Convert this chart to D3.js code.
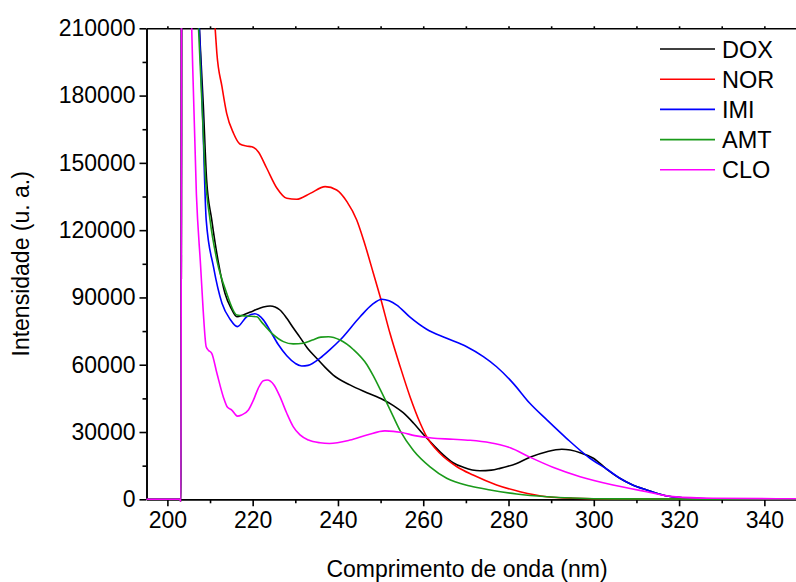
<!DOCTYPE html>
<html>
<head>
<meta charset="utf-8">
<script src="https://cdn.jsdelivr.net/npm/d3@7"></script>
<style>
  body { margin: 0; background: #fff; }
  text { font-family: "Liberation Sans", Arial, sans-serif; }
</style>
</head>
<body>
<div id="chart"></div>
<script>
// spectra: [wavelength nm, intensity]
var DOX = [[195,0],[202.8,0],[203.2,-800],[203.4,400000],[207.5,210000],[208.4,176600],[209.2,142400],[210.4,124600],
  [212.0,105200],[213.5,91900],[215,85000],[216.3,81400],[217.8,82200],[219.5,83500],[221.0,84700],[222.5,85700],
  [224.1,86200],[226.4,84400],[228.0,80700],[229.5,76500],[231.1,72200],[233,67000],[235.0,62900],[237,58800],
  [238.9,55400],[242.8,51000],[246.8,47500],[250.6,44400],[253,41800],[255.3,38600],[257.7,34000],[260.0,29000],
  [262.5,24000],[264.7,19800],[267,16300],[269.4,14300],[271.5,13100],[273.3,12750],[276,13000],[278.0,13800],
  [281.9,16000],[285.0,18700],[289.0,21200],[292.5,22300],[296.8,20800],[299.9,18300],[303,13500],[306.1,9400],
  [309,6500],[312.4,4150],[317.1,1470],[323.3,450],[330,200],[350,100]]

var NOR = [[195,0],[202.8,0],[203.2,-800],[203.4,400000],[211.2,210000],[211.6,198900],[212.8,184000],[213.9,172100],
  [215.5,163200],[217.0,158400],[218.5,157500],[219.8,157200],[221.3,155000],[223.3,147600],[225.7,138700],
  [228.0,134200],[230.3,133800],[233.5,136400],[237.0,139400],[239.7,137900],[242.1,132700],[244.4,124500],
  [246.0,115600],[248.3,100800],[249.9,90300],[252.2,74000],[254.6,59100],[256.9,45750],[259.3,33900],[260.8,27900],
  [263.9,20500],[267.9,14500],[271.7,10800],[277.2,6400],[282.7,3400],[289.0,1160],[295,500],[305,200],[350,50]]

var IMI = [[195,0],[202.8,0],[203.2,-800],[203.4,400000],[207.5,210000],[208.3,169100],[209.1,124600],[210.8,103700],
  [212.8,87400],[214.7,80300],[216.4,77000],[218.6,81400],[220.5,82700],[222.5,80000],[224,75500],[226,69000],
  [228,64000],[230,60600],[231.5,59400],[233,59700],[235.8,62900],[238,66500],[240.5,71000],[245.2,81400],
  [248,86800],[250.3,89200],[252,88500],[253.8,86600],[256.9,81200],[260.8,75800],[265.5,71800],[270.2,68000],
  [274.1,63600],[277.2,59100],[281.1,51700],[285.0,42800],[289.0,35400],[293.6,27200],[299.1,18300],[303,13500],
  [306.1,9400],[309,6500],[312.4,4150],[317.1,1470],[323.3,450],[330,200],[350,100]]

var AMT = [[195,0],[202.8,0],[203.2,-800],[203.4,400000],[207.3,210000],[208.1,176600],[208.8,146800],[210.0,124600],
  [211.6,106700],[213.9,91900],[216.3,82200],[218.6,81700],[221.0,81400],[222.1,79000],[224.5,74000],[227.2,70300],
  [229.5,69300],[231.9,69600],[234,71000],[236,72300],[237.8,72500],[240.5,71000],[243.6,66800],[246.8,60000],
  [248.3,55000],[249.9,49000],[252.2,40000],[254.6,30500],[257.7,21800],[261.6,14500],[265.5,9400],[271.0,5900],
  [275.7,4150],[281.9,2360],[289.0,1160],[295,600],[305,200],[350,50]]

var CLO = [[195,0],[202.8,0],[203.2,-800],[203.4,400000],[205.7,210000],[206.8,136000],[207.8,103700],[208.4,84000],
  [209.1,68000],[209.6,66500],[210.4,65100],[211.6,56300],[213.1,45750],[214.1,41000],[215.1,39800],[216.4,37100],
  [217.4,37600],[219.0,39800],[220.2,44300],[221.3,49500],[222.5,52900],[223.4,53200],[225.0,51000],[226.4,45750],
  [228.0,38350],[229.5,32400],[231.1,28700],[233.1,26400],[235.8,25200],[238,24900],[242.8,26400],[247,28800],
  [251,30500],[255,29800],[258,28400],[262,27300],[267,26800],[271,26300],[275.7,25200],[278,24300],[280.4,23000],
  [285,18800],[290.4,14300],[296.8,10100],[304.5,6400],[312.4,3400],[318.6,1200],[328,450],[350,200]]

var names = ["DOX", "NOR", "IMI", "AMT", "CLO"]
var colors = ["#000000", "#ff0000", "#0000ff", "#1a9a1a", "#ff00ff"]
var spectra = [DOX, NOR, IMI, AMT, CLO]

var xMajor = [200, 220, 240, 260, 280, 300, 320, 340]
var xMinor = [210, 230, 250, 270, 290, 310, 330, 350]
var yMajor = [0, 30000, 60000, 90000, 120000, 150000, 180000, 210000]
var yMinor = [15000, 45000, 75000, 105000, 135000, 165000, 195000]

var W = 796, H = 582
// plot frame (right edge runs past the picture, as in the reference)
var pLeft = 146.5, pRight = 807, pTop = 28.3, pBottom = 499.3
var fontSize = "23px"

var svg = d3.select("#chart").append("svg")
  .attr("width", W)
  .attr("height", H)

var x = d3.scaleLinear().domain([195.1, 350]).range([pLeft, pRight])
var y = d3.scaleLinear().domain([0, 210000]).range([pBottom, pTop])

function styleAxis(g) {
  g.selectAll("path, line").attr("stroke", "#000").attr("stroke-width", 1.6)
  g.selectAll("text").attr("fill", "#000").style("font-size", fontSize)
    .style("font-family", '"Liberation Sans", Arial, sans-serif')
}

// bottom axis
svg.append("g").attr("transform", "translate(0," + pBottom + ")")
  .call(d3.axisBottom(x).tickValues(xMajor).tickSize(7).tickSizeOuter(0).tickPadding(5).tickFormat(d3.format("d")))
  .call(styleAxis)
svg.append("g").attr("transform", "translate(0," + pBottom + ")")
  .call(d3.axisBottom(x).tickValues(xMinor).tickSize(4).tickSizeOuter(0).tickFormat(""))
  .call(styleAxis)

// top axis, small marks only
svg.append("g").attr("transform", "translate(0," + pTop + ")")
  .call(d3.axisTop(x).tickValues(xMajor.concat(xMinor)).tickSize(2).tickSizeOuter(0).tickFormat(""))
  .call(styleAxis)

// left axis
svg.append("g").attr("transform", "translate(" + pLeft + ",0)")
  .call(d3.axisLeft(y).tickValues(yMajor).tickSize(7).tickSizeOuter(0).tickPadding(4).tickFormat(d3.format("d")))
  .call(styleAxis)
svg.append("g").attr("transform", "translate(" + pLeft + ",0)")
  .call(d3.axisLeft(y).tickValues(yMinor).tickSize(4).tickSizeOuter(0).tickFormat(""))
  .call(styleAxis)

// clip the curves to the plot frame
svg.append("clipPath").attr("id", "plotclip")
  .append("rect")
  .attr("x", pLeft).attr("y", pTop)
  .attr("width", pRight - pLeft).attr("height", pBottom - pTop + 4)

var line = d3.line()
  .x(function (d) { return x(d[0]) })
  .y(function (d) { return y(d[1]) })
  .curve(d3.curveMonotoneX)

svg.append("g").attr("clip-path", "url(#plotclip)")
  .selectAll("path")
  .data(spectra)
  .enter()
  .append("path")
  .attr("d", line)
  .attr("fill", "none")
  .attr("stroke", function (d, i) { return colors[i] })
  .attr("stroke-width", 1.6)

// legend
var legend = svg.append("g")
legend.selectAll("line")
  .data(names)
  .enter()
  .append("line")
  .attr("x1", 660).attr("x2", 715)
  .attr("y1", function (d, i) { return 49 + i * 30.2 })
  .attr("y2", function (d, i) { return 49 + i * 30.2 })
  .attr("stroke", function (d, i) { return colors[i] })
  .attr("stroke-width", 1.6)
legend.selectAll("text")
  .data(names)
  .enter()
  .append("text")
  .attr("x", 722)
  .attr("y", function (d, i) { return 49 + i * 30.2 + 8.5 })
  .style("font-size", "23.5px")
  .text(function (d) { return d })

// axis titles
svg.append("text")
  .attr("x", 467)
  .attr("y", 577)
  .attr("text-anchor", "middle")
  .style("font-size", fontSize)
  .text("Comprimento de onda (nm)")

svg.append("text")
  .attr("transform", "translate(29," + ((pTop + pBottom) / 2) + ") rotate(-90)")
  .attr("text-anchor", "middle")
  .style("font-size", fontSize)
  .text("Intensidade (u. a.)")
</script>
</body>
</html>
